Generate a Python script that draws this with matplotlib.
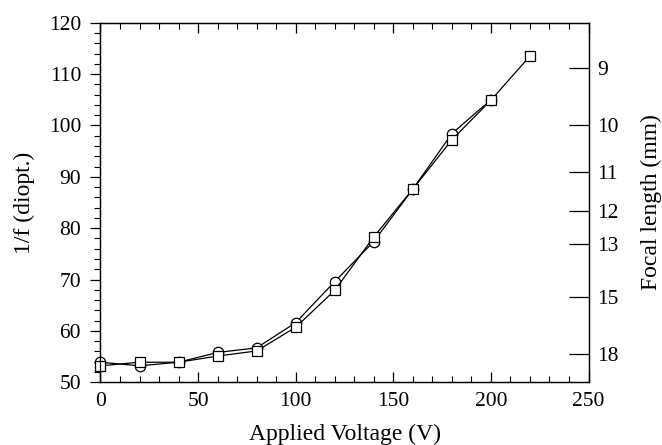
import matplotlib
matplotlib.use("Agg")
import matplotlib.pyplot as plt
from matplotlib.ticker import MultipleLocator

plt.rcParams['font.family'] = ['Liberation Serif', 'DejaVu Serif']

voltage_sq = [0, 20, 40, 60, 80, 100, 120, 140, 160, 180, 200, 220]
diopt_sq = [53.2, 53.9, 53.9, 55.1, 56.1, 60.7, 67.9, 78.3, 87.6, 97.2, 104.9, 113.5]
voltage_ci = [0, 20, 40, 60, 80, 100, 120, 140, 160, 180, 200]
diopt_ci = [53.9, 53.2, 53.9, 55.8, 56.7, 61.6, 69.6, 77.4, 87.6, 98.4, 105.0]
focal_ticks = [9, 10, 11, 12, 13, 15, 18]

fig = plt.figure(figsize=(6.62, 4.45), dpi=100)
ax = fig.add_axes([0.1518, 0.141, 0.889 - 0.1518, 0.949 - 0.141])

ax.plot(voltage_ci, diopt_ci, color='black', lw=0.9, marker='o', ms=7.5,
        mfc='white', mec='black', mew=0.9, clip_on=False, zorder=3)
ax.plot(voltage_sq, diopt_sq, color='black', lw=0.9, marker='s', ms=7.5,
        mfc='white', mec='black', mew=0.9, clip_on=False, zorder=4)

ax.set_xlim(0, 250)
ax.set_ylim(50, 120)
ax.xaxis.set_major_locator(MultipleLocator(50))
ax.xaxis.set_minor_locator(MultipleLocator(10))
ax.yaxis.set_major_locator(MultipleLocator(10))
ax.yaxis.set_minor_locator(MultipleLocator(2))

ax.tick_params(axis='x', which='both', direction='in', top=True, bottom=True,
               labelsize=15.5, pad=7)
ax.tick_params(axis='x', which='major', length=7, width=0.9)
ax.tick_params(axis='x', which='minor', length=4, width=0.8)
ax.tick_params(axis='y', which='both', direction='out', left=True, right=False,
               labelsize=15.5, pad=7)
ax.tick_params(axis='y', which='major', length=7, width=0.9)
ax.tick_params(axis='y', which='minor', length=4, width=0.8)
for s in ax.spines.values():
    s.set_linewidth(0.9)

ax.set_xlabel('Applied Voltage (V)', fontsize=17, labelpad=9)
ax.set_ylabel('1/f (diopt.)', fontsize=17, labelpad=10)

ax2 = ax.twinx()
ax2.set_ylim(50, 120)
ax2.set_yticks([1000.0 / f for f in focal_ticks])
ax2.set_yticklabels([str(f) for f in focal_ticks])
ax2.tick_params(axis='y', direction='in', length=14.5, width=0.9, labelsize=15.5, pad=6)
ax2.set_ylabel('Focal length (mm)', fontsize=17, labelpad=16)
for s in ax2.spines.values():
    s.set_linewidth(0.9)

fig.savefig('out.png', dpi=100)
